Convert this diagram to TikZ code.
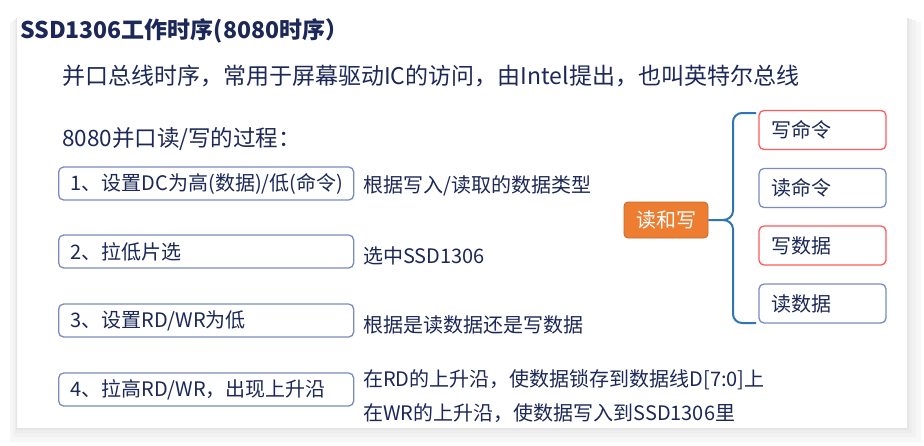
\documentclass[tikz,border=0pt]{standalone}
\usepackage{fontspec}
\setmainfont{Noto Sans CJK SC}
\usetikzlibrary{positioning}

\definecolor{inkc}{RGB}{28,40,88}
\definecolor{stepc}{RGB}{122,140,190}
\definecolor{redc}{RGB}{255,90,90}
\definecolor{orangec}{RGB}{237,125,49}
\definecolor{orangeline}{RGB}{198,104,44}
\definecolor{bracec}{RGB}{46,117,182}

\tikzset{
  stepbox/.style={draw=stepc, line width=1.3pt, rectangle, rounded corners=5pt, minimum width=295pt, minimum height=33pt, text width=271pt, inner xsep=12pt, align=left, anchor=west, font=\fontsize{20}{22}\selectfont, text=inkc},
  note/.style={anchor=west, inner sep=0pt, font=\fontsize{20}{22}\selectfont, text=inkc},
  optbox/.style={draw=stepc, line width=1.3pt, rectangle, rounded corners=5pt, minimum width=127pt, minimum height=39pt, text width=103pt, inner xsep=12pt, align=left, font=\fontsize{20}{22}\selectfont, text=inkc},
  wrbox/.style={optbox, draw=redc},
}

\begin{document}
\begin{tikzpicture}[x=1pt, y=-1pt]
\useasboundingbox (0,0) rectangle (924,445);
% page and its shadow
\foreach \d/\c in {14/3, 9/5, 5/7, 2/10}
  \fill[black!\c] (17-\d/2,17+\d/3) rectangle (907+\d,428+\d);
\fill[white] (17,17) rectangle (907,428);

\node (title) [note, font=\fontsize{23}{25}\selectfont\bfseries] at (20,31) {SSD1306工作时序(8080时序）};
\node (intro) [note, font=\fontsize{23}{25}\selectfont] at (62,76) {并口总线时序，常用于屏幕驱动IC的访问，由Intel提出，也叫英特尔总线};
\node (steps) [note, font=\fontsize{22.5}{24}\selectfont] at (62,139) {8080并口读/写的过程：};

\node (s1) [stepbox] at (58,183.5) {1、设置DC为高(数据)/低(命令)};
\node (s2) [stepbox] at (58,251.5) {2、拉低片选};
\node (s3) [stepbox] at (58,320.5) {3、设置RD/WR为低};
\node (s4) [stepbox] at (58,389.5) {4、拉高RD/WR，出现上升沿};

\node (n1) [note] at (363,186) {根据写入/读取的数据类型};
\node (n2) [note] at (363,256) {选中SSD1306};
\node (n3) [note] at (363,325) {根据是读数据还是写数据};
\node (n4a) [note] at (363,380) {在RD的上升沿，使数据锁存到数据线D[7:0]上};
\node (n4b) [note] at (363,413) {在WR的上升沿，使数据写入到SSD1306里};

\node (rw) [draw=orangeline, fill=orangec, rectangle, rounded corners=4pt, line width=0.8pt, minimum width=84pt, minimum height=36pt, text=white, font=\fontsize{20}{22}\selectfont] at (666,220) {读和写};

\node (wcmd) [wrbox] at (822.5,130) {写命令};
\node (rcmd) [optbox] at (822.5,188) {读命令};
\node (wdat) [wrbox] at (822.5,245.5) {写数据};
\node (rdat) [optbox] at (822.5,303.5) {读数据};

\coordinate (btop) at (756,113);
\coordinate (bbot) at (756,323);
\draw[bracec, line width=2pt] (btop) -- (742,113) to[out=180,in=90] (733,122) -- (733,211) to[out=-90,in=0] (723,220) -- (rw.east);
\draw[bracec, line width=2pt] (bbot) -- (742,323) to[out=180,in=-90] (733,314) -- (733,229) to[out=90,in=0] (723,220);
\end{tikzpicture}
\end{document}
